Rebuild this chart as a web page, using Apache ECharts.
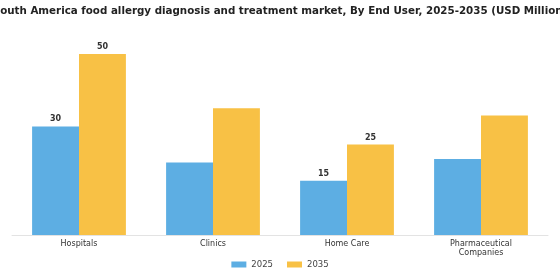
<!DOCTYPE html>
<html>
<head>
<meta charset="utf-8">
<script src="https://cdn.jsdelivr.net/npm/echarts@6/dist/echarts.min.js"></script>
<style>
  html, body { margin: 0; padding: 0; background: #fff; }
  #main { width: 560px; height: 280px; }
</style>
</head>
<body>
<div id="main"></div>
<script>
const categories = ["Hospitals", "Clinics", "Home Care", "Pharmaceutical\nCompanies"];
const values2025 = [30, 20, 15, 21];
const values2035 = [50, 35, 25, 33];
// only these bars carry a value label
const labelled = [0, 2];

let myChart = echarts.init(document.getElementById("main"));

const withLabels = (vals) =>
  vals.map((v, i) => ({
    value: v,
    label: { show: labelled.includes(i) },
  }));

let option = {
  animation: false,
  title: {
    text: "South America food allergy diagnosis and treatment market, By End User, 2025-2035 (USD Million)",
    left: "center",
    top: 1,
    textStyle: {
      fontFamily: "DejaVu Sans",
      fontSize: 10.3,
      fontWeight: "bold",
      color: "#222",
    },
  },
  legend: {
    bottom: 6,
    left: "center",
    itemWidth: 15,
    itemHeight: 6,
    itemGap: 14,
    icon: "rect",
    textStyle: { fontFamily: "DejaVu Sans", fontSize: 8.5, color: "#444" },
    data: ["2025", "2035"],
  },
  grid: { left: 12, right: 12, top: 54, bottom: 45 },
  xAxis: {
    type: "category",
    data: categories,
    axisLine: { lineStyle: { color: "#e3e3e3" } },
    axisTick: { show: false },
    axisLabel: {
      fontFamily: "DejaVu Sans",
      fontSize: 8,
      color: "#333",
      margin: 4,
      lineHeight: 9,
    },
  },
  yAxis: {
    type: "value",
    min: 0,
    max: 50,
    show: false,
  },
  series: [
    {
      name: "2025",
      type: "bar",
      barGap: "0%",
      barCategoryGap: "30%",
      itemStyle: { color: "#5DAEE3" },
      label: {
        position: "top",
        distance: 3,
        fontFamily: "DejaVu Sans",
        fontSize: 8,
        fontWeight: "bold",
        color: "#333",
      },
      data: withLabels(values2025),
    },
    {
      name: "2035",
      type: "bar",
      itemStyle: { color: "#F8C145" },
      label: {
        position: "top",
        distance: 3,
        fontFamily: "DejaVu Sans",
        fontSize: 8,
        fontWeight: "bold",
        color: "#333",
      },
      data: withLabels(values2035),
    },
  ],
};

option && myChart.setOption(option);
</script>
</body>
</html>
